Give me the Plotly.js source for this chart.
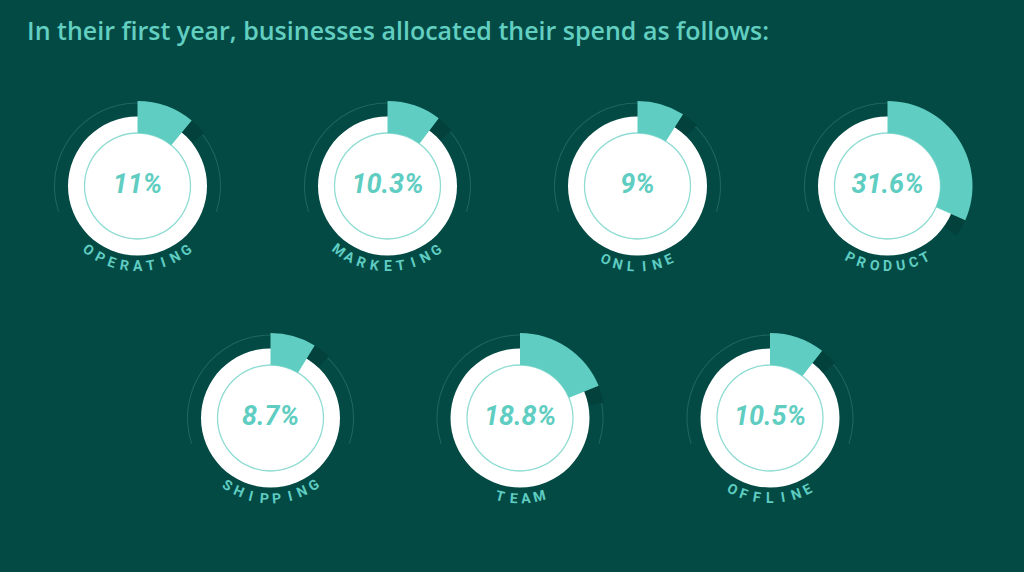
<!DOCTYPE html>
<html>
<head>
<meta charset="utf-8">
<script src="https://cdn.plot.ly/plotly-3.0.1.min.js"></script>
<style>
  html, body { margin: 0; padding: 0; background: #034a45; }
  #chart { width: 1024px; height: 572px; }
</style>
</head>
<body>
<div id="chart"></div>
<script>
// ---- data ----
const categories = ['OPERATING', 'MARKETING', 'ONLINE', 'PRODUCT', 'SHIPPING', 'TEAM', 'OFFLINE'];
const shares = [11, 10.3, 9, 31.6, 8.7, 18.8, 10.5];
const shareLabels = ['11%', '10.3%', '9%', '31.6%', '8.7%', '18.8%', '10.5%'];
const titleText = 'In their first year, businesses allocated their spend as follows:';

// ---- layout config ----
const W = 1024, H = 572;
const centers = [[137.5, 186], [387.5, 186], [637.5, 186], [887.5, 186], [270.5, 418], [520, 418], [770, 418]];
const HALF = 88;                 // half-size of each polar domain (radial unit = 1px)
const RING = 53, WHITE = 69.5, LINE = 83, OUTER = 85;
const BG = '#034a45', TEAL = '#5fcdc1', RINGC = '#8fdcd3', LINEC = '#1f655e', BANDC = '#02413c';
const LABEL_R = 80, LETTER_STEP = 13;

const traces = [];
const layout = {
  width: W, height: H,
  margin: {l: 0, r: 0, t: 0, b: 0},
  paper_bgcolor: BG, plot_bgcolor: BG,
  showlegend: false,
  title: {
    text: titleText,
    x: 27 / W, xanchor: 'left', xref: 'paper',
    y: 1 - 31 / H, yanchor: 'middle', yref: 'paper',
    font: {family: 'Open Sans, sans-serif', size: 25, weight: 600, color: '#62cfc1'}
  },
  annotations: []
};

categories.forEach((cat, i) => {
  const id = i === 0 ? 'polar' : 'polar' + (i + 1);
  const [cx, cy] = centers[i];
  layout[id] = {
    domain: {
      x: [(cx - HALF) / W, (cx + HALF) / W],
      y: [1 - (cy + HALF) / H, 1 - (cy - HALF) / H]
    },
    bgcolor: 'rgba(0,0,0,0)',
    barmode: 'overlay',
    radialaxis: {visible: false, range: [0, HALF]},
    angularaxis: {visible: false, rotation: 90, direction: 'clockwise'}
  };
  const span = shares[i] * 3.6;
  const common = {type: 'barpolar', subplot: id, hoverinfo: 'skip'};
  // faint outer arc
  traces.push(Object.assign({}, common, {
    r: [1.1], base: [LINE - 0.55], theta: [0], width: [216],
    marker: {color: LINEC, line: {width: 0}}
  }));
  // dark band just past the slice
  traces.push(Object.assign({}, common, {
    r: [OUTER - WHITE], base: [WHITE], theta: [span + 6], width: [12],
    marker: {color: BANDC, line: {width: 0}}
  }));
  // white disc
  traces.push(Object.assign({}, common, {
    r: [WHITE], base: [0], theta: [180], width: [360],
    marker: {color: '#ffffff', line: {width: 0}}
  }));
  // inner thin ring
  traces.push(Object.assign({}, common, {
    r: [1.3], base: [RING - 0.65], theta: [180], width: [360],
    marker: {color: RINGC, line: {width: 0}}
  }));
  // share slice
  traces.push(Object.assign({}, common, {
    r: [OUTER - RING], base: [RING], theta: [span / 2], width: [span],
    marker: {color: TEAL, line: {width: 0}}
  }));
  // centre label
  traces.push({
    type: 'scatterpolar', subplot: id, mode: 'text', hoverinfo: 'skip',
    r: [0], theta: [0], text: [shareLabels[i]], textposition: 'middle center',
    textfont: {family: 'Roboto, sans-serif', size: 27, weight: 700, style: 'italic', color: TEAL}
  });
  // curved category label
  const letters = cat.split('');
  const n = letters.length;
  const stepDeg = LETTER_STEP / LABEL_R * 180 / Math.PI;
  letters.forEach((ch, k) => {
    const phi = (k - (n - 1) / 2) * stepDeg;
    const rad = phi * Math.PI / 180;
    const px = cx + LABEL_R * Math.sin(rad);
    const py = cy + LABEL_R * Math.cos(rad);
    layout.annotations.push({
      text: ch, x: px / W, y: 1 - py / H, xref: 'paper', yref: 'paper',
      xanchor: 'center', yanchor: 'middle', showarrow: false, textangle: -phi,
      font: {family: 'Roboto, sans-serif', size: 14, weight: 700, color: TEAL}
    });
  });
});

Plotly.newPlot('chart', traces, layout, {staticPlot: true, displayModeBar: false});
</script>
</body>
</html>
